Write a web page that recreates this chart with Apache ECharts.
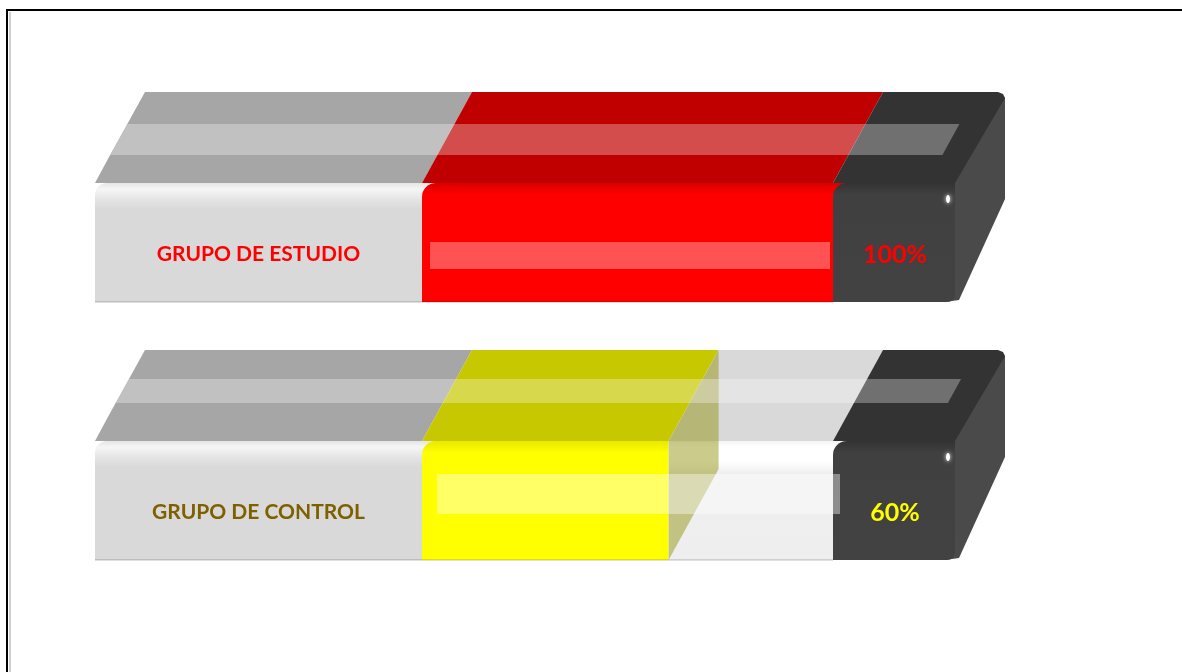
<!DOCTYPE html>
<html>
<head>
<meta charset="utf-8">
<script src="https://cdn.jsdelivr.net/npm/echarts@6/dist/echarts.min.js"></script>
<style>
  html, body { margin: 0; padding: 0; background: #ffffff; }
  #chart { width: 1182px; height: 672px; }
</style>
</head>
<body>
<div id="chart"></div>
<script>
// Groups and their percentages
const categories = ['GRUPO DE ESTUDIO', 'GRUPO DE CONTROL'];
const percentValues = [100, 60];
const axisMin = 0;
const axisMax = 100;

// Per-row look of the 3D progress bars
const rowStyles = [
  { top: '#c00000', front: '#ff0000', frontTop: '#d80000', label: '#ff0000', pct: '#ff0000',
    stripe: [59, 28], band: [60, 33], bandAlpha: 0.32, bandL: 8, bandR: -3 },
  { top: '#c8c800', front: '#ffff00', frontTop: '#e8e800', label: '#7f6000', pct: '#ffff00',
    stripe: [62, 38], band: [86, 46], bandAlpha: 0.4, bandL: 15, bandR: 7 }
];

// Bar geometry (pixels)
const LABEL_W = 327;   // grey label block in front of the scale
const CAP_W = 122;     // dark end cap after the scale
const DX = 50;         // depth offset of the top face
const DY = 91;
const HALF_H = 59.5;   // half height of the front face

function renderItem(params, api) {
  const idx = api.value(1);
  const v = api.value(0);
  const st = rowStyles[idx];
  const pv = api.coord([v, idx]);
  const xv = pv[0], yc = pv[1];
  const x0 = api.coord([axisMin, idx])[0];
  const x100 = api.coord([axisMax, idx])[0];
  const L = x0 - LABEL_W, R = x100 + CAP_W;
  const ft = yc - HALF_H, fb = yc + HALF_H, bt = ft - DY;

  const quad = (xa, xb) => [[xa, ft], [xa + DX, bt], [xb + DX, bt], [xb, ft]];
  const poly = (points, fill) => ({ type: 'polygon', shape: { points }, style: { fill } });
  const vgrad = (stops) => new echarts.graphic.LinearGradient(0, 0, 0, 1,
    stops.map(s => ({ offset: s[0], color: s[1] })));
  const rect = (xa, xb, ya, yb, fill, r) => ({
    type: 'rect', shape: { x: xa, y: ya, width: xb - xa, height: yb - ya, r: r || 0 }, style: { fill }
  });

  const kids = [];
  // top faces
  kids.push(poly([[L, ft], [L + 14, ft - 26], [L + DX, bt], [x0 + DX, bt], [x0, ft]], '#a6a6a6'));
  kids.push(poly(quad(x0, xv), st.top));
  if (v < axisMax) kids.push(poly(quad(xv, x100), '#d9d9d9'));

  // front faces (the last one runs a little under the rounded cap corner)
  const full = v >= axisMax;
  kids.push(rect(L, x0 + 14, ft, fb, vgrad([[0, '#e4e4e4'], [0.05, '#f6f6f6'], [0.14, '#e4e4e4'], [0.22, '#d9d9d9'], [1, '#d9d9d9']]), [12, 0, 0, 0]));
  kids.push(rect(x0, full ? xv + 14 : xv, ft, fb, vgrad([[0, st.frontTop], [0.1, st.front], [1, st.front]]), [14, 0, 0, 0]));
  if (!full) {
    kids.push(rect(xv, x100 + 14, ft, fb, vgrad([[0, '#f4f4f4'], [0.05, '#ffffff'], [0.17, '#ffffff'], [0.27, '#efefef'], [1, '#eeeeee']])));
    // translucent side face of the filled part
    kids.push(poly([[xv, ft], [xv + DX, bt], [xv + DX, fb - DY], [xv, fb]], 'rgba(140,140,0,0.45)'));
  }

  // dark end cap: side face first, then top and front over it
  kids.push(poly([[R - 10, ft], [R + DX - 10, bt], [R + DX, bt + 6], [R + DX, fb - DY - 12], [R + 4, fb - 2], [R - 10, fb]], '#4a4a4a'));
  kids.push(poly([[x100, ft], [x100 + DX, bt], [R + DX - 7, bt], [R + DX - 2, bt + 2], [R + DX, bt + 6], [R, ft]], '#333333'));
  kids.push(rect(x100, R, ft, fb, vgrad([[0, '#333333'], [0.1, '#404040'], [1, '#424242']]), [14, 0, 8, 0]));

  // light stripe across the top face
  const xl = y => L + DX * (ft - y) / DY;
  const y1 = ft - st.stripe[0], y2 = ft - st.stripe[1];
  kids.push(poly([[xl(y1), y1], [xl(y1) + (R - L) - 28, y1], [xl(y2) + (R - L) - 28, y2], [xl(y2), y2]], 'rgba(255,255,255,0.3)'));

  // light band across the front of the scale
  kids.push(rect(x0 + st.bandL, x100 + st.bandR, fb - st.band[0], fb - st.band[1], 'rgba(255,255,255,' + st.bandAlpha + ')'));

  // small glint on the cap corner
  kids.push({ type: 'ellipse', shape: { cx: R - 7, cy: ft + 16, rx: 2, ry: 4 },
    style: { fill: '#ffffff', shadowBlur: 4, shadowColor: '#ffffff' } });

  // soft bottom edge
  kids.push({ type: 'line', shape: { x1: L, y1: fb, x2: x100, y2: fb }, style: { stroke: 'rgba(0,0,0,0.25)', lineWidth: 1 } });

  // texts
  kids.push({ type: 'text', x: (L + x0) / 2, y: yc + 12,
    style: { text: categories[idx], fill: st.label, font: 'bold 21px Lato, "Liberation Sans", sans-serif',
      align: 'center', verticalAlign: 'middle' } });
  kids.push({ type: 'text', x: x100 + CAP_W / 2 + 1, y: yc + 12,
    style: { text: v + '%', fill: st.pct, font: 'bold 25px Lato, "Liberation Sans", sans-serif',
      align: 'center', verticalAlign: 'middle' } });

  return { type: 'group', children: kids };
}

const chart = echarts.init(document.getElementById('chart'), null, { renderer: 'canvas' });
chart.setOption({
  animation: false,
  backgroundColor: '#ffffff',
  grid: { left: 422, width: 411, top: 113.5, height: 516 },
  xAxis: { type: 'value', min: axisMin, max: axisMax, show: false },
  yAxis: { type: 'category', data: categories, inverse: true, show: false },
  graphic: [
    { type: 'rect', shape: { x: 7, y: 10, width: 1300, height: 800 }, style: { fill: 'none', stroke: '#000000', lineWidth: 2 } },
    { type: 'line', shape: { x1: 10, y1: 12, x2: 10, y2: 672 }, style: { stroke: '#d0d0d0', lineWidth: 2 } }
  ],
  series: [{
    type: 'custom',
    renderItem: renderItem,
    encode: { x: 0, y: 1 },
    data: percentValues.map((v, i) => [v, i])
  }]
});
</script>
</body>
</html>
